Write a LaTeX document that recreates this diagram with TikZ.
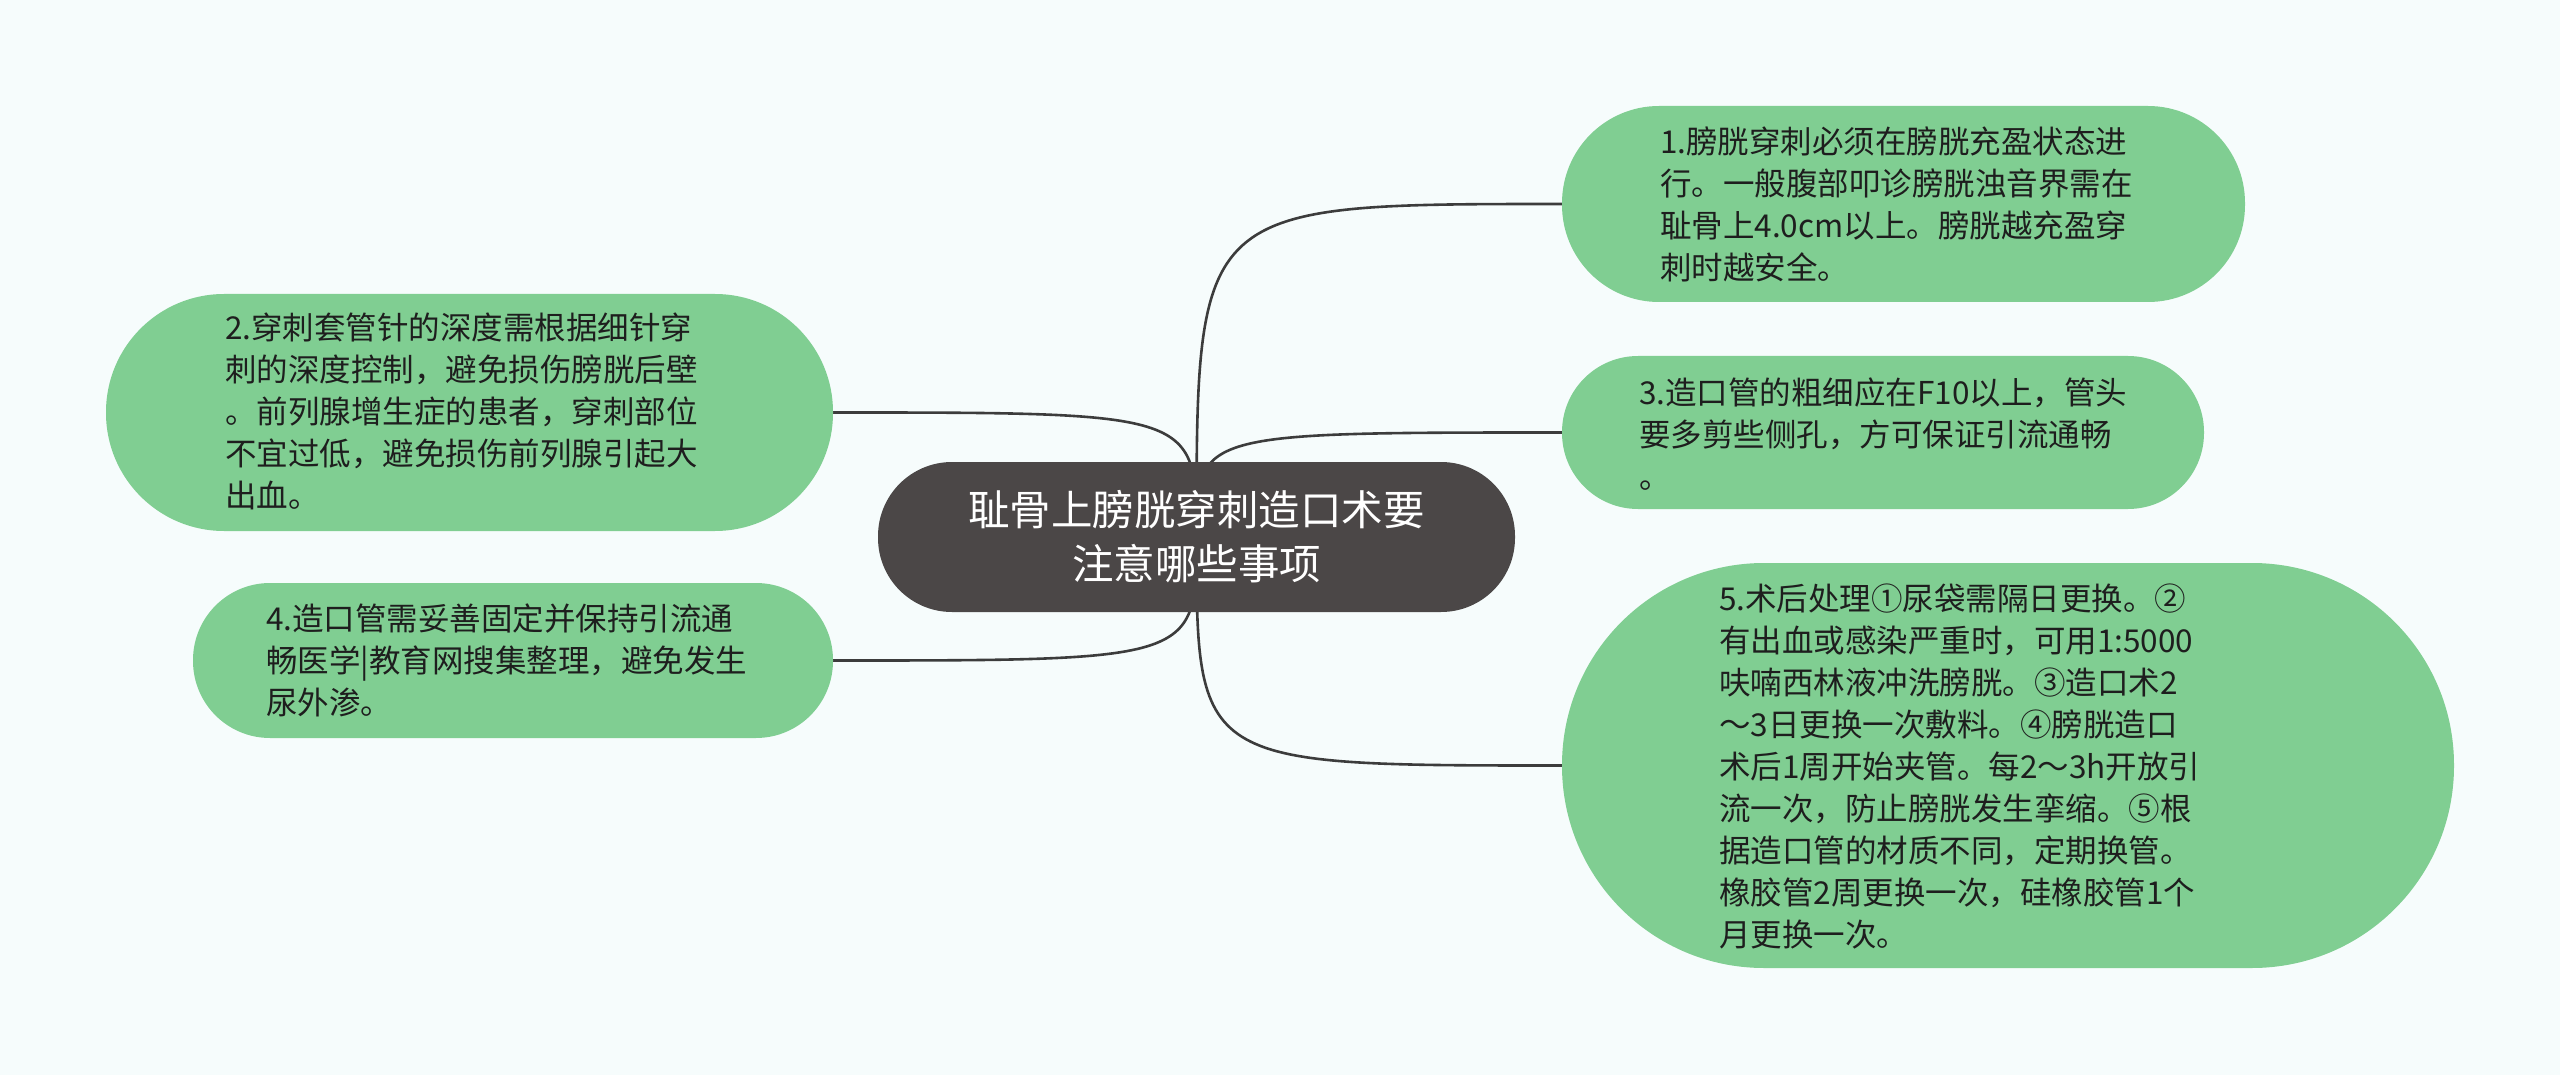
\documentclass[tikz,border=0pt]{standalone}
\usepackage{fontspec}
\setmainfont{Noto Sans CJK SC}
\pgfdeclarelayer{bglayer}
\pgfdeclarelayer{linklayer}
\pgfsetlayers{bglayer,linklayer,main}
\begin{document}
\begin{tikzpicture}[x=1pt,y=-1pt,
  leaf/.style={draw=none,fill=leafgreen,inner sep=0pt},
  leaftext/.style={anchor=west,align=left,inner sep=0pt,text=textdark,
    font=\fontsize{31.5}{42}\selectfont},
  root/.style={draw=none,fill=rootgray,align=center,inner sep=0pt,text=white,
    font=\fontsize{41.5}{54}\selectfont},
  link/.style={draw=linkgray,line width=2.6pt}]
\definecolor{bg}{HTML}{F6FCFC}
\definecolor{leafgreen}{HTML}{80CE92}
\definecolor{rootgray}{HTML}{4B4747}
\definecolor{textdark}{HTML}{1E1E1E}
\definecolor{linkgray}{HTML}{3C3C3C}
\useasboundingbox (0,0) rectangle (2560,1075);
\begin{pgfonlayer}{bglayer}
\fill[bg] (0,0) rectangle (2560,1075);
\end{pgfonlayer}

\node[root,minimum width=637pt,minimum height=150pt,rounded corners=74pt] (C) at (1196.5,537)
  {耻骨上膀胱穿刺造口术要\\注意哪些事项};

\node[leaf,minimum width=683pt,minimum height=196pt,rounded corners=97pt] (N1) at (1903.5,204) {};
\node[leaftext] (T1) at (1660,204)
  {1.膀胱穿刺必须在膀胱充盈状态进\\行。一般腹部叩诊膀胱浊音界需在\\耻骨上4.0cm以上。膀胱越充盈穿\\刺时越安全。};

\node[leaf,minimum width=727pt,minimum height=237pt,rounded corners=118pt] (N2) at (469.5,412.5) {};
\node[leaftext] (T2) at (225,411)
  {2.穿刺套管针的深度需根据细针穿\\刺的深度控制，避免损伤膀胱后壁\\。前列腺增生症的患者，穿刺部位\\不宜过低，避免损伤前列腺引起大\\出血。};

\node[leaf,minimum width=642pt,minimum height=153pt,rounded corners=76pt] (N3) at (1883,432.5) {};
\node[leaftext] (T3) at (1639,434)
  {3.造口管的粗细应在F10以上，管头\\要多剪些侧孔，方可保证引流通畅\\。};

\node[leaf,minimum width=640pt,minimum height=155pt,rounded corners=77pt] (N4) at (513,660.5) {};
\node[leaftext] (T4) at (266,660)
  {4.造口管需妥善固定并保持引流通\\畅医学|教育网搜集整理，避免发生\\尿外渗。};

\node[leaf,minimum width=892pt,minimum height=405pt,rounded corners=202pt] (N5) at (2008,765.5) {};
\node[leaftext] (T5) at (1719,766)
  {5.术后处理①尿袋需隔日更换。②\\有出血或感染严重时，可用1:5000\\呋喃西林液冲洗膀胱。③造口术2\\～3日更换一次敷料。④膀胱造口\\术后1周开始夹管。每2～3h开放引\\流一次，防止膀胱发生挛缩。⑤根\\据造口管的材质不同，定期换管。\\橡胶管2周更换一次，硅橡胶管1个\\月更换一次。};

\begin{pgfonlayer}{linklayer}
\draw[link] (C.center) .. controls (C.center |- N1.west) .. (N1.west);
\draw[link] (C.center) .. controls (C.center |- N3.west) .. (N3.west);
\draw[link] (C.center) .. controls (C.center |- N5.west) .. (N5.west);
\draw[link] (C.center) .. controls (C.center |- N2.east) .. (N2.east);
\draw[link] (C.center) .. controls (C.center |- N4.east) .. (N4.east);
\end{pgfonlayer}
\end{tikzpicture}
\end{document}
